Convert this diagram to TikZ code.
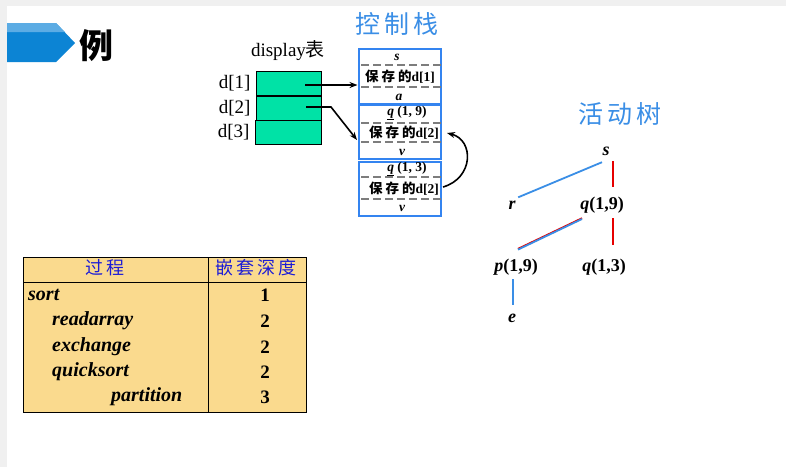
\documentclass[tikz,border=0pt]{standalone}
\usepackage{fontspec}
\setmainfont{Liberation Serif}
\newfontfamily\cjk{Noto Sans CJK SC}
\usetikzlibrary{arrows.meta,positioning}
\definecolor{bannerdark}{RGB}{12,132,212}
\definecolor{bannerlight}{RGB}{92,172,228}
\definecolor{titleblue}{RGB}{58,142,230}
\definecolor{framebl}{RGB}{52,132,240}
\definecolor{cellgreen}{RGB}{0,226,166}
\definecolor{tabfill}{RGB}{250,218,142}
\definecolor{headblue}{RGB}{28,28,215}
\definecolor{treered}{RGB}{230,0,0}
\definecolor{dashgray}{RGB}{125,125,125}
\newcommand\fsz[1]{\fontsize{#1}{#1}\selectfont}
\tikzset{
  cell/.style={draw=black,line width=0.6pt,fill=cellgreen,minimum width=65pt,minimum height=24.5pt,inner sep=0pt},
  frame/.style={draw=framebl,line width=2pt,minimum width=82pt,minimum height=55pt,inner sep=0pt},
  sep/.style={draw=dashgray,line width=2pt,dash pattern=on 8pt off 4pt,dash phase=-3pt},
  ptr/.style={-{Stealth[length=8pt,width=6pt]},line width=1.6pt},
  slot/.style={font=\fsz{13.5}\bfseries,inner sep=0pt},
  tnode/.style={font=\fsz{18}\bfseries,inner sep=0pt,text height=12pt,text depth=3pt},
  bluel/.style={draw=titleblue,line width=1.8pt},
  redl/.style={draw=treered,line width=1.8pt},
  proc/.style={font=\fsz{20}\bfseries\itshape,anchor=west,inner sep=0pt},
  depth/.style={font=\fsz{19}\bfseries,inner sep=0pt},
}

\begin{document}
\begin{tikzpicture}[x=1pt,y=-1pt]
  \fill[black!6] (0,0) rectangle (786,467);
  \fill[white] (7,6) rectangle (786,467);
  \useasboundingbox (0,0) rectangle (786,467);

  \fill[bannerdark] (7,23) -- (56,23) -- (75,43) -- (56,62) -- (7,62) -- cycle;
  \fill[bannerlight] (7,23) -- (56,23) -- (65,32) -- (7,32) -- cycle;
  \node[font=\cjk\fsz{34}\bfseries] (li) at (96,46) {例};

  \node[font=\cjk\fsz{25},text=titleblue] (stacktitle) at (397,24) {控\hspace{4pt}制\hspace{4pt}栈};
  \node[font=\cjk\fsz{25},text=titleblue] (treetitle) at (620,114) {活\hspace{4pt}动\hspace{4pt}树};

  \node[font=\fsz{19}] (disp) at (288,51) {display{\cjk 表}};
  \node[cell] (d1) at (288.5,83.5) {};
  \node[cell,minimum height=24pt] (d2) at (288.5,108) {};
  \node[cell,minimum width=66pt] (d3) at (288,132.5) {};
  \node[font=\fsz{19},left=5pt of d1,inner sep=0pt] (l1) {d[1]};
  \node[font=\fsz{19},left=5pt of d2,inner sep=0pt] (l2) {d[2]};
  \node[font=\fsz{19},left=5pt of d3,inner sep=0pt] (l3) {d[3]};

  \node[frame] (f1) at (399.5,76.5) {};
  \node[frame,minimum height=54pt] (f2) at (399.5,132) {};
  \node[frame,minimum height=54pt] (f3) at (399.5,189) {};

  \node[slot] (s1) at (397,57) {\itshape s};
  \draw[sep] (358,65) -- (441,65);
  \node[slot] (k1) at (400,77) {{\cjk 保\hspace{3pt}存\hspace{3pt}的}d[1]};
  \draw[sep] (358,87) -- (441,87);
  \node[slot] (a1) at (399,97) {\itshape a};

  \node[slot] (q2) at (407,113) {\underline{\itshape q} (1, 9)};
  \draw[sep] (358,123) -- (441,123);
  \node[slot] (k2) at (404,133) {{\cjk 保\hspace{3pt}存\hspace{3pt}的}d[2]};
  \draw[sep] (358,142) -- (441,142);
  \node[slot] (v2) at (402,152) {\itshape v};

  \node[slot] (q3) at (407,169) {\underline{\itshape q} (1, 3)};
  \draw[sep] (358,177) -- (441,177);
  \node[slot] (k3) at (404,189) {{\cjk 保\hspace{3pt}存\hspace{3pt}的}d[2]};
  \draw[sep] (358,199) -- (441,199);
  \node[slot] (v3) at (402,208) {\itshape v};

  \coordinate (p1) at (305,85);
  \coordinate (p2) at (306,107);
  \coordinate (hit2) at (357,140);
  \coordinate (from3) at (443,187);
  \coordinate (back2) at (447,133);
  \draw[ptr] (p1) -- (p1 -| f1.west);
  \draw[ptr] (p2) -- (331,107) -- (hit2);
  \draw[ptr] (from3) .. controls (474,178) and (474,140) .. (back2);

  \node[tnode] (s) at (606,151) {\itshape s};
  \node[tnode] (r) at (512,205) {\itshape r};
  \node[tnode] (q19) at (602,205) {{\itshape q}(1,9)};
  \node[tnode] (p19) at (516,267) {{\itshape p}(1,9)};
  \node[tnode] (q13) at (604,267) {{\itshape q}(1,3)};
  \node[tnode] (e) at (512,318) {\itshape e};
  \draw[bluel] ([shift={(-4,3.5)}]s.south) -- ([shift={(2.5,0)}]r.north east);
  \draw[redl] ([shift={(7,2.5)}]s.south) -- ([shift={(11,-10.5)}]q19.north);
  \draw[redl] ([shift={(11,5.5)}]q19.south) -- ([shift={(9,-14.5)}]q13.north);
  \draw[redl] ([shift={(-20,5.5)}]q19.south) -- ([shift={(2,-10.5)}]p19.north);
  \draw[bluel,transform canvas={yshift=-0.8pt}] ([shift={(-20,5.5)}]q19.south) -- ([shift={(2,-10.5)}]p19.north);
  \draw[bluel] ([shift={(-3,4.5)}]p19.south) -- ([shift={(1,-5.5)}]e.north);

  \draw[fill=tabfill,line width=1pt] (23,257) rectangle (306,412);
  \draw[line width=1pt] (23,282) -- (306,282);
  \draw[line width=1pt] (208,257) -- (208,412);
  \node[font=\cjk\fsz{18},text=headblue] (hproc) at (105,268) {过\hspace{3pt}程};
  \node[font=\cjk\fsz{18},text=headblue] (hdepth) at (256,268) {嵌\hspace{3pt}套\hspace{3pt}深\hspace{3pt}度};
  \node[proc] (psort) at (28,295) {sort};
  \node[proc] (pread) at (52,321) {readarray};
  \node[proc] (pexch) at (52,347) {exchange};
  \node[proc] (pquick) at (52,372) {quicksort};
  \node[proc] (ppart) at (111,397) {partition};
  \node[depth] (dsort) at (265,295) {1};
  \node[depth] (dread) at (265,321) {2};
  \node[depth] (dexch) at (265,347) {2};
  \node[depth] (dquick) at (265,372) {2};
  \node[depth] (dpart) at (265,397) {3};
\end{tikzpicture}
\end{document}
